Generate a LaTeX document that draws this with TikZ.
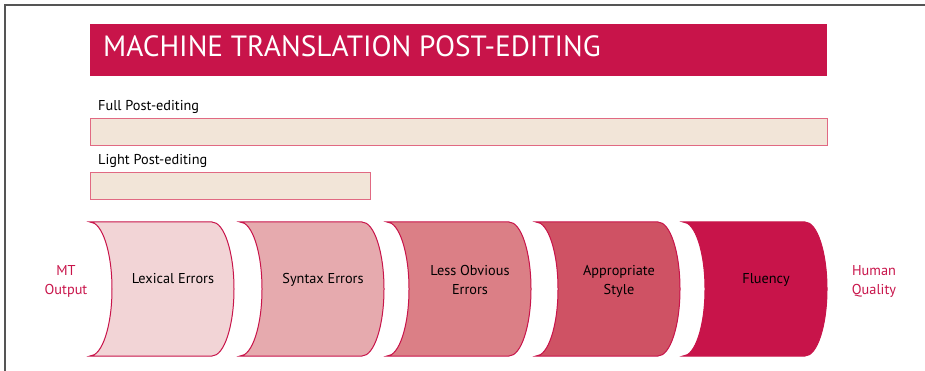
\documentclass[tikz,border=0pt]{standalone}
\usepackage{fontspec}
\setmainfont{PT Sans}
\definecolor{crimson}{RGB}{200,20,74}
\definecolor{barfill}{RGB}{242,229,216}
\definecolor{barline}{RGB}{225,105,130}
\definecolor{frameline}{RGB}{85,85,85}
\definecolor{stageA}{RGB}{242,212,214}
\definecolor{stageB}{RGB}{230,170,174}
\definecolor{stageC}{RGB}{219,127,134}
\definecolor{stageD}{RGB}{207,82,100}
\definecolor{stageE}{RGB}{200,20,74}
\newcommand{\twolines}[2]{\begin{tabular}[t]{@{}c@{}}#1\\#2\end{tabular}}
\tikzset{
  stagebox/.style={draw=crimson, line width=1pt},
  bar/.style={draw=barline, fill=barfill, line width=1pt},
  caption/.style={font=\fontsize{14.3}{18.5}\selectfont, text=black, inner sep=0pt},
  endlabel/.style={font=\fontsize{14.3}{18.5}\selectfont, text=crimson, inner sep=0pt},
}
% one stage: left edge x, fill colour, label node name, label baseline y, label
\newcommand{\stage}[5]{%
  \filldraw[stagebox, fill=#2] (#1,222) -- ++(122,0)
    arc[start angle=-90, end angle=90, x radius=22, y radius=67]
    -- ++(-122,0)
    arc[start angle=90, end angle=-90, x radius=22, y radius=67] -- cycle;
  \node[caption, anchor=base] (#3) at ({#1+83},#4) {#5};
}
\begin{document}
\begin{tikzpicture}[x=1pt, y=-1pt]
  \useasboundingbox (0,0) rectangle (925,371);
  % frame
  \draw[frameline, line width=2pt] (4.5,371) -- (4.5,5.5) -- (925,5.5);
  % title bar
  \fill[crimson] (90,24) rectangle (827,76);
  \node[anchor=base west, inner sep=0pt, text=white,
        font=\fontsize{29.3}{33}\selectfont] (title) at (103,56.7)
        {MACHINE TRANSLATION POST-EDITING};
  % post-editing bars
  \node[caption, anchor=base west] (fulllbl) at (98,111) {Full Post-editing};
  \draw[bar] (90,119) rectangle (827,146);
  \node[caption, anchor=base west] (lightlbl) at (98,165) {Light Post-editing};
  \draw[bar] (90,173) rectangle (370,200);
  % stages
  \stage{90}{stageA}{lexical}{283.3}{Lexical Errors}
  \stage{240}{stageB}{syntax}{283.3}{Syntax Errors}
  \stage{387}{stageC}{obvious}{275.7}{\twolines{Less Obvious}{Errors}}
  \stage{536}{stageD}{style}{275.7}{\twolines{Appropriate}{Style}}
  \stage{683}{stageE}{fluency}{283.3}{Fluency}
  % end labels
  \node[endlabel, anchor=base] (mt) at (66,275.7) {\twolines{MT}{Output}};
  \node[endlabel, anchor=base] (human) at (874,275.7) {\twolines{Human}{Quality}};
\end{tikzpicture}
\end{document}
